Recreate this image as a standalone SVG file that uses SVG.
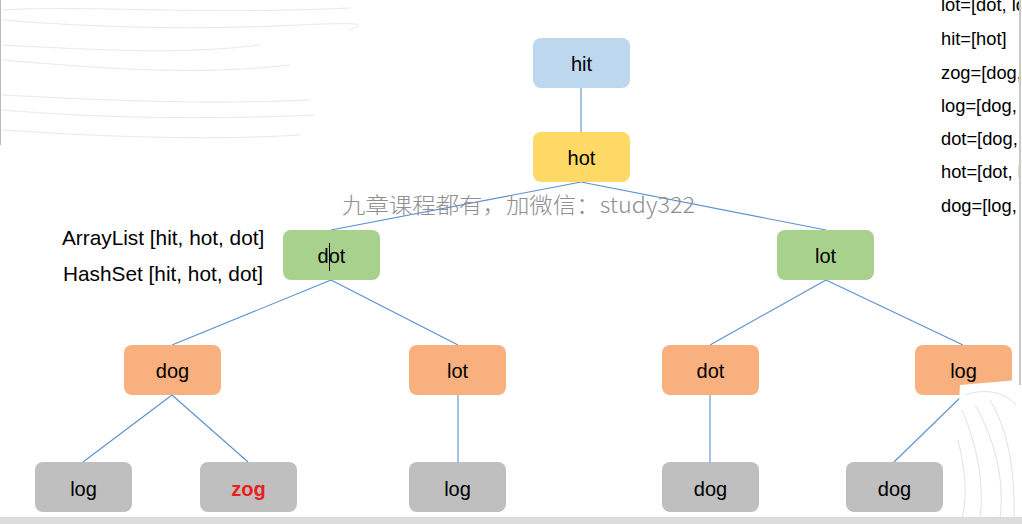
<svg xmlns="http://www.w3.org/2000/svg" width="1022" height="524" viewBox="0 0 1022 524">
<defs>
<style>
.n rect{rx:8;ry:8}
.blue{fill:#BDD7EE}
.yel{fill:#FFD966}
.grn{fill:#A9D18E}
.org{fill:#F8B07E}
.gry{fill:#BFBFBF}
.t{font-family:"Liberation Sans",Arial,sans-serif;font-size:20px;fill:#000;text-anchor:middle}
.lbl{font-family:"Liberation Sans",Arial,sans-serif;font-size:20.8px;fill:#000}
.side{font-family:"Liberation Sans",Arial,sans-serif;font-size:18.3px;fill:#000}
.c line{stroke:#5B8FD0;stroke-width:1.1}
</style>
<clipPath id="rc"><rect x="900" y="0" width="119" height="240"/></clipPath>
</defs>
<rect width="1022" height="524" fill="#fff"/>
<g id="sketch" stroke="#e4e4e4" stroke-width="1" fill="none" opacity="0.8">
<path d="M2 10 C80 5 200 15 350 8"/>
<path d="M2 20 C100 28 200 30 300 25 S340 30 350 30"/>
<path d="M2 45 C100 50 180 55 260 45"/>
<path d="M2 60 C120 70 200 75 290 65"/>
<path d="M2 95 C100 100 200 105 310 100"/>
<path d="M2 110 C100 118 200 120 315 115"/>
<path d="M2 130 C120 138 220 140 300 135"/>
</g>
<line x1="0.5" y1="0" x2="0.5" y2="145" stroke="#bbb"/>
<g id="connectors" class="c">
<line x1="581" y1="88" x2="581" y2="132"/>
<line x1="581" y1="182" x2="331" y2="230"/>
<line x1="581" y1="182" x2="826" y2="230"/>
<line x1="331" y1="280" x2="172" y2="345"/>
<line x1="331" y1="280" x2="458" y2="345"/>
<line x1="826" y1="280" x2="710" y2="345"/>
<line x1="826" y1="280" x2="963" y2="345"/>
<line x1="172" y1="395" x2="83" y2="462"/>
<line x1="172" y1="395" x2="248" y2="462"/>
<line x1="458" y1="395" x2="458" y2="462"/>
<line x1="710" y1="395" x2="710" y2="462"/>
<line x1="963" y1="395" x2="894" y2="462"/>
</g>
<g id="n-hit" class="n"><rect class="blue" x="533" y="38" width="97" height="50"/><text class="t" x="581.5" y="71">hit</text></g>
<g id="n-hot" class="n"><rect class="yel" x="533" y="132" width="97" height="50"/><text class="t" x="581.5" y="165">hot</text></g>
<g id="n-dot1" class="n"><rect class="grn" x="283" y="230" width="97" height="50"/><text class="t" x="331.5" y="263">dot</text><line x1="329.5" y1="243" x2="329.5" y2="271" stroke="#000" stroke-width="1"/></g>
<g id="n-lot1" class="n"><rect class="grn" x="777" y="230" width="97" height="50"/><text class="t" x="825.5" y="263">lot</text></g>
<g id="n-dog2" class="n"><rect class="org" x="124" y="345" width="97" height="50"/><text class="t" x="172.5" y="378">dog</text></g>
<g id="n-lot2" class="n"><rect class="org" x="409" y="345" width="97" height="50"/><text class="t" x="457.5" y="378">lot</text></g>
<g id="n-dot2" class="n"><rect class="org" x="662" y="345" width="97" height="50"/><text class="t" x="710.5" y="378">dot</text></g>
<g id="n-log2" class="n"><rect class="org" x="915" y="345" width="97" height="50"/><text class="t" x="963.5" y="378">log</text></g>
<g id="n-log3a" class="n"><rect class="gry" x="35" y="462" width="97" height="50"/><text class="t" x="83.5" y="496">log</text></g>
<g id="n-zog3" class="n"><rect class="gry" x="200" y="462" width="97" height="50"/><text class="t" x="248.5" y="496" style="fill:#E8201E;font-weight:bold">zog</text></g>
<g id="n-log3b" class="n"><rect class="gry" x="409" y="462" width="97" height="50"/><text class="t" x="457.5" y="496">log</text></g>
<g id="n-dog3a" class="n"><rect class="gry" x="662" y="462" width="97" height="50"/><text class="t" x="710.5" y="496">dog</text></g>
<g id="n-dog3b" class="n"><rect class="gry" x="846" y="462" width="97" height="50"/><text class="t" x="894.5" y="496">dog</text></g>
<g id="corner" stroke="#d8d8d8" stroke-width="0.8" fill="none">
<path d="M960 385 L1018 380 L1018 520 L952 520 Z" fill="#fff" stroke="none"/>
<path d="M965 395 C985 388 1005 392 1016 405"/>
<path d="M962 410 C975 440 985 480 980 518"/>
<path d="M975 405 C995 440 1005 480 1000 518"/>
<path d="M990 400 C1008 430 1015 470 1014 518"/>
<path d="M958 440 C965 470 968 495 962 518"/>
</g>
<text class="lbl" x="62" y="245">ArrayList [hit, hot, dot]</text>
<text class="lbl" x="63" y="281">HashSet [hit, hot, dot]</text>
<g clip-path="url(#rc)">
<text class="side" x="941" y="11">lot=[dot, lo</text>
<text class="side" x="941" y="45">hit=[hot]</text>
<text class="side" x="941" y="79">zog=[dog,</text>
<text class="side" x="941" y="112">log=[dog,</text>
<text class="side" x="941" y="145">dot=[dog,</text>
<text class="side" x="941" y="178">hot=[dot, l</text>
<text class="side" x="941" y="212">dog=[log,</text>
</g>
<line x1="1020" y1="0" x2="1020" y2="385" stroke="#c8c8c8" stroke-width="2"/>
<text x="342" y="213" font-family="'Noto Sans CJK SC','Liberation Serif',serif" font-size="22" font-weight="300" fill="#8f8f8f" textLength="353" lengthAdjust="spacingAndGlyphs">九章课程都有，加微信：study322</text>
<rect x="0" y="517" width="1022" height="7" fill="#DCDCDC"/>
</svg>
